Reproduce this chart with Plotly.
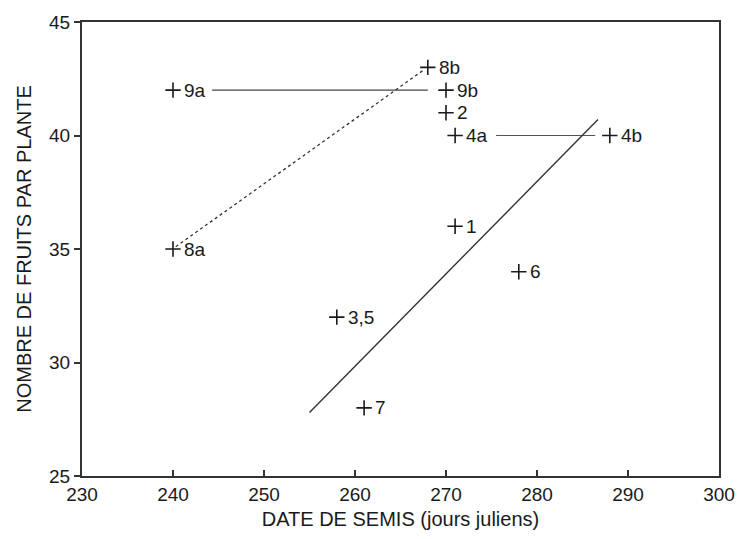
import plotly.graph_objects as go

# Data points (sowing date, fruits per plant)
labels = ["9a", "8a", "8b", "9b", "2", "4a", "1", "4b", "6", "3,5", "7"]
x_vals = [240, 240, 268, 270, 270, 271, 271, 288, 278, 258, 261]
y_vals = [42, 35, 43, 42, 41, 40, 36, 40, 34, 32, 28]

# Lines
line8_x = [240.3, 267.6]
line8_y = [35.1, 42.9]
line9_x = [244.3, 268.0]
line9_y = [42, 42]
line4_x = [275.5, 286.4]
line4_y = [40, 40]
reg_x = [255.0, 286.7]
reg_y = [27.8, 40.7]

FONT = "Liberation Sans, Arial, sans-serif"
INK = "#1a1a1a"

fig = go.Figure()

fig.add_trace(go.Scatter(x=line8_x, y=line8_y, mode="lines",
                         line=dict(color="#333333", width=1.3, dash="dot"),
                         showlegend=False, hoverinfo="skip"))
fig.add_trace(go.Scatter(x=line9_x, y=line9_y, mode="lines",
                         line=dict(color="#444444", width=1.3),
                         showlegend=False, hoverinfo="skip"))
fig.add_trace(go.Scatter(x=line4_x, y=line4_y, mode="lines",
                         line=dict(color="#555555", width=1.2),
                         showlegend=False, hoverinfo="skip"))
fig.add_trace(go.Scatter(x=reg_x, y=reg_y, mode="lines",
                         line=dict(color="#333333", width=1.4),
                         showlegend=False, hoverinfo="skip"))

fig.add_trace(go.Scatter(x=x_vals, y=y_vals, mode="markers",
                         marker=dict(symbol="cross-thin", size=11,
                                     line=dict(color=INK, width=1.6)),
                         showlegend=False))

for lab, xv, yv in zip(labels, x_vals, y_vals):
    fig.add_annotation(x=xv, y=yv, text=lab, showarrow=False,
                       xanchor="left", yanchor="middle", xshift=9,
                       font=dict(family=FONT, size=19, color=INK))

fig.update_layout(
    width=747, height=539,
    margin=dict(l=82, r=21, t=18, b=56),
    paper_bgcolor="white", plot_bgcolor="white",
    font=dict(family=FONT, size=19, color=INK),
)
fig.update_xaxes(
    range=[230, 300], tickvals=[230, 240, 250, 260, 270, 280, 290, 300],
    ticks="inside", ticklen=6, tickwidth=1.5, tickcolor="#333333",
    showline=True, linecolor="#333333", linewidth=2, mirror=True,
    showgrid=False, zeroline=False,
    tickfont=dict(family=FONT, size=19, color=INK),
    title=dict(text="DATE DE SEMIS (jours juliens)", standoff=8,
               font=dict(family=FONT, size=20, color=INK)),
)
fig.update_yaxes(
    range=[25, 45], tickvals=[25, 30, 35, 40, 45],
    ticks="outside", ticklen=6, tickwidth=1.5, tickcolor="#333333",
    showline=True, linecolor="#333333", linewidth=2, mirror=True,
    showgrid=False, zeroline=False,
    tickfont=dict(family=FONT, size=19, color=INK),
    title=dict(text="NOMBRE DE FRUITS PAR PLANTE", standoff=12,
               font=dict(family=FONT, size=20, color=INK)),
)

fig.write_html("out.html")
